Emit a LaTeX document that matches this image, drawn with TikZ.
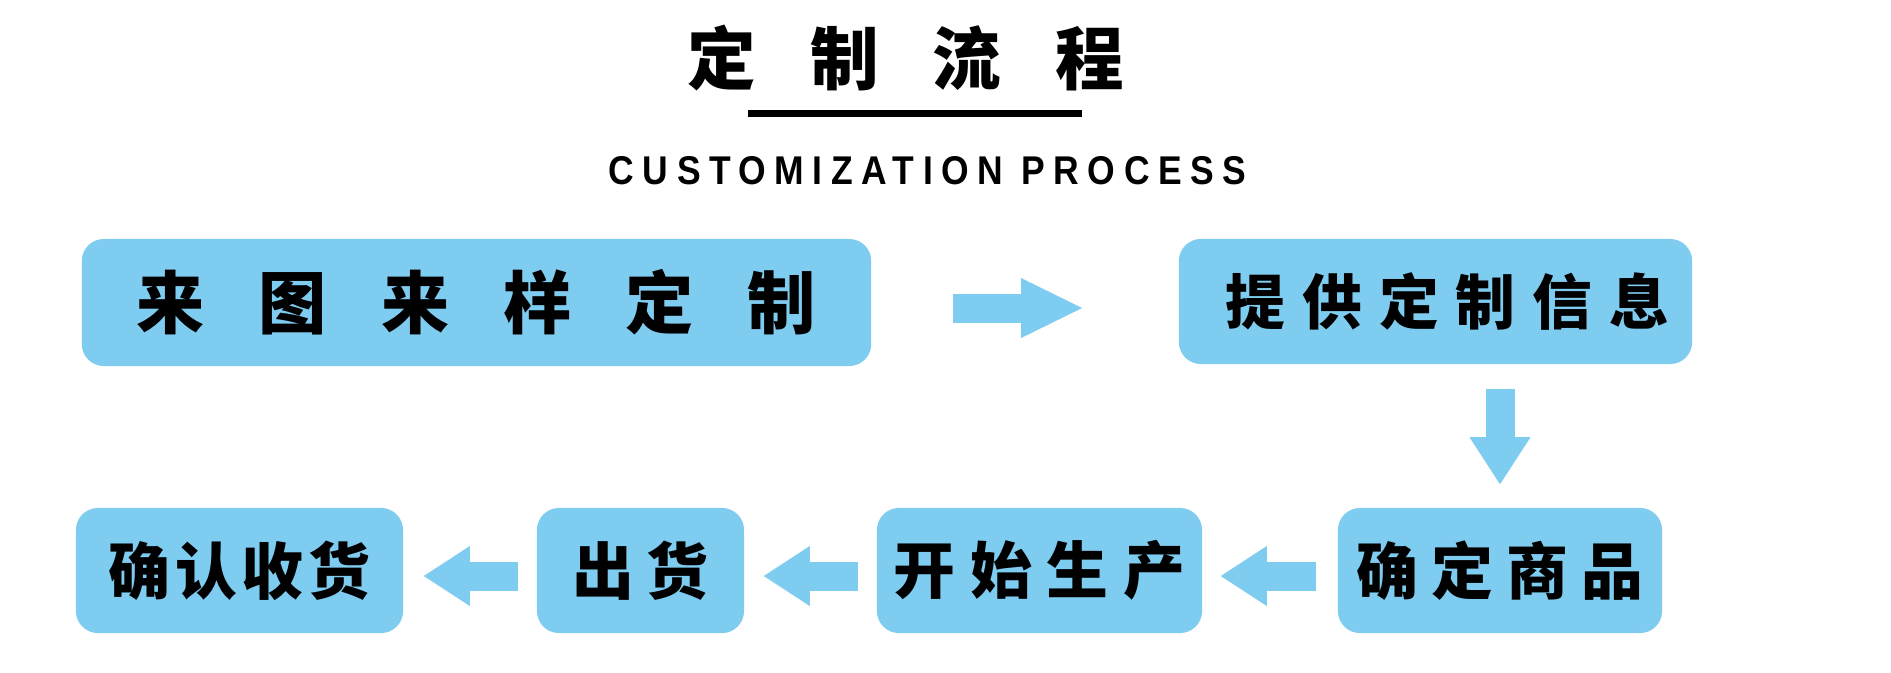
\documentclass[tikz,border=0pt]{standalone}
\usepackage{graphicx}
\usepackage{fontspec}
\setmainfont{Liberation Sans}
\newfontfamily\cjk{Noto Sans CJK SC}
\usetikzlibrary{arrows.meta}

\definecolor{skyblue}{RGB}{127,204,241}
\newcommand\gapped[2]{\spaceskip=#1\relax #2}

\tikzset{
  stepbox/.style={fill=skyblue, rounded corners=0.22cm, inner sep=0pt, minimum height=1.25cm},
  flow/.style={draw=skyblue, line width=0.29cm,
    -{Triangle[width=0.60cm 0 1, length=0.46cm 0 1, line width=0pt 0 1]}},
}

\begin{document}
\begin{tikzpicture}[x=0.01cm, y=-0.01cm]
\fill[white] (0,0) rectangle (1891,672);
\useasboundingbox (0,0) rectangle (1891,672);

% heading
\node[font=\cjk\bfseries\fontsize{19.5pt}{19.5pt}\selectfont] (title) at (906,58.5) {\gapped{0.54cm}{定 制 流 程}};
\fill (748,110) rectangle (1082,117);
\node[inner sep=0pt] (subtitle) at (927.5,171) {\resizebox{6.37cm}{0.28cm}{\bfseries\addfontfeature{LetterSpace=24}CUSTOMIZATION PROCESS}};

% steps
\node[stepbox, minimum width=7.89cm, minimum height=1.27cm, font=\cjk\bfseries\fontsize{19.4pt}{19.4pt}\selectfont] (sample) at (476.5,302.5) {\gapped{0.54cm}{来 图 来 样 定 制}};
\node[stepbox, minimum width=5.13cm, font=\cjk\bfseries\fontsize{17pt}{17pt}\selectfont] (info) at (1435.5,301.5) {\hspace*{0.24cm}\gapped{0.17cm}{提 供 定 制 信 息}};
\node[stepbox, minimum width=3.24cm, font=\cjk\bfseries\fontsize{17.6pt}{17.6pt}\selectfont] (confirm) at (1500,570.5) {\gapped{0.13cm}{确 定 商 品}};
\node[stepbox, minimum width=3.25cm, font=\cjk\bfseries\fontsize{17.6pt}{17.6pt}\selectfont] (produce) at (1039.5,570.5) {\gapped{0.15cm}{开 始 生 产}};
\node[stepbox, minimum width=2.07cm, font=\cjk\bfseries\fontsize{17.6pt}{17.6pt}\selectfont] (ship) at (640.5,570.5) {\gapped{0.12cm}{出 货}};
\node[stepbox, minimum width=3.27cm, font=\cjk\bfseries\fontsize{17.6pt}{17.6pt}\selectfont] (receive) at (239.5,570.5) {\gapped{0.05cm}{确 认 收 货}};

% arrows
\draw[flow, -{Triangle[width=0.60cm 0 1, length=0.61cm 0 1, line width=0pt 0 1]}, shorten <=0.81cm, shorten >=0.96cm]
  ([yshift=-0.055cm]sample.east) -- ([yshift=-0.055cm]sample.east -| info.west);
\draw[flow, -{Triangle[width=0.61cm 0 1, length=0.47cm 0 1, line width=0pt 0 1]}, shorten <=0.24cm, shorten >=0.23cm]
  (confirm.north |- info.south) -- (confirm.north);
\draw[flow, shorten <=0.21cm, shorten >=0.18cm] ([yshift=-0.055cm]confirm.west) -- ([yshift=-0.055cm]produce.east);
\draw[flow, shorten <=0.18cm, shorten >=0.19cm] ([yshift=-0.055cm]produce.west) -- ([yshift=-0.055cm]ship.east);
\draw[flow, shorten <=0.18cm, shorten >=0.20cm] ([yshift=-0.055cm]ship.west) -- ([yshift=-0.055cm]receive.east);
\end{tikzpicture}
\end{document}
